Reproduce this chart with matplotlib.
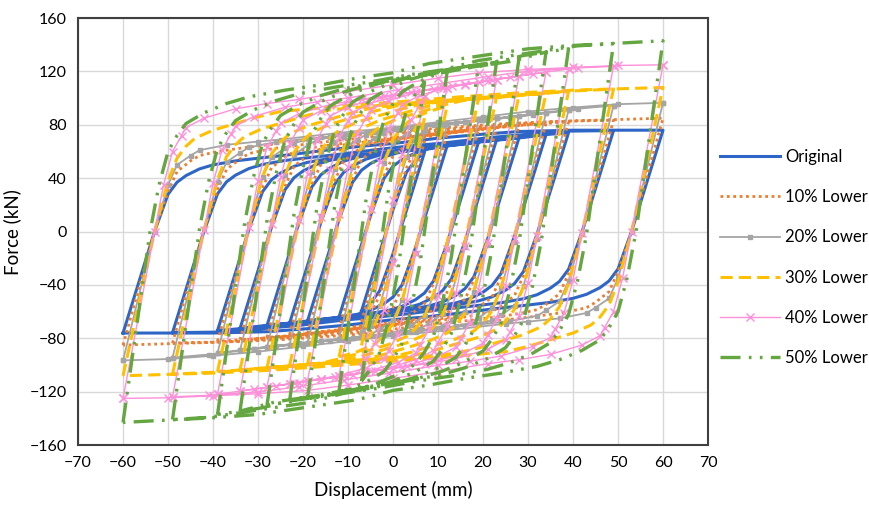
import numpy as np
import matplotlib.pyplot as plt

plt.rcParams['font.family'] = ['Lato', 'DejaVu Sans']

# cycle amplitudes (mm)
amplitudes = [7, 12, 19, 23, 28, 34, 39, 49, 60]

# upper branch of the largest (60 mm) loop: (displacement, force)
orig_x = [-60, -53, -50, -48, -46, -43, -40, -35, -30, -22, -15, -7, 0, 10, 20, 28, 40, 60]
orig_f = [-76, 0, 28, 37, 42, 47, 50, 53, 55, 58, 61, 64, 66, 70, 73, 75, 76, 76]
low10_x = [-60, -53, -50, -48, -45, -43, -39, -35, -28, -20, -10, 0, 12, 25, 40, 60]
low10_f = [-85, 0, 30, 45, 53, 57, 60, 62, 65, 68, 72, 75, 78, 81, 83, 85]
low20_x = [-60, -53, -50, -48, -45, -43, -37, -30, -25, -12, 0, 10, 20, 30, 40, 50, 60]
low20_f = [-96.5, 0, 35, 50, 57, 61, 65, 67.5, 69, 74, 78, 82, 86, 90, 93, 95.5, 96.5]
low30_x = [-60, -53, -50, -48, -46, -44, -40, -35, -30, -25, -12, 0, 15, 28, 40, 60]
low30_f = [-108, 0, 38, 55, 64, 70, 76, 81, 86, 90, 94, 97, 101, 104, 106, 108]
low40_x = [-60, -53, -51, -49, -47, -46, -42, -35, -28, -21, -10, 0, 10, 19, 30, 40, 50, 60]
low40_f = [-125, 0, 35, 60, 72, 78, 85, 92, 96, 99, 105, 110, 115, 119, 121.5, 123, 124.5, 125]
low50_x = [-60, -54, -52, -50, -48, -46, -42, -37, -32, -24, -16, -8, 0, 8, 18, 30, 40, 49, 60]
low50_f = [-143, 0, 35, 60, 72, 81, 89, 96, 101, 106, 110, 115, 119, 126, 131, 137, 139.5, 141, 143]

# peak force of each cycle (kN), one per amplitude
orig_peak = [59.5, 64, 67, 68.7, 70.3, 72.6, 74.1, 75.7, 76]
low10_peak = [67.4, 73.2, 76.1, 77.2, 79.3, 81, 82.1, 83.5, 85]
low20_peak = [75.5, 80.3, 83.3, 84.8, 86.6, 88.9, 90.9, 94.4, 96.5]
low30_peak = [85.3, 93.9, 99.4, 100.6, 102, 103.6, 104.8, 106.8, 108]
low40_peak = [101.5, 107.9, 111.8, 113.9, 116.5, 119.4, 121.8, 123.8, 125]
low50_peak = [112, 119.2, 124.8, 127, 129.9, 134.5, 137, 140.8, 143]

labels = ['Original', '10% Lower', '20% Lower', '30% Lower', '40% Lower', '50% Lower']


def build_loops(bx, bf, peaks):
    """Chain one closed loop per amplitude, reusing the big-loop branch shape."""
    dx = np.array(bx) - bx[0]
    df = np.array(bf) - bf[0]
    xs, ys = [], []
    for A, F in zip(amplitudes, peaks):
        keep = dx < 2 * A - 0.5
        # loading branch
        xs += list(-A + dx[keep]) + [A]
        ys += list(-F + df[keep]) + [F]
        # unloading branch
        xs += list(A - dx[keep]) + [-A]
        ys += list(F - df[keep]) + [-F]
        xs.append(np.nan)
        ys.append(np.nan)
    return xs, ys


series = [
    (orig_x, orig_f, orig_peak, dict(color='#2E66C8', lw=2.2, ls='-')),
    (low10_x, low10_f, low10_peak, dict(color='#ED7D31', lw=2.0, ls=(0, (1, 1.3)))),
    (low20_x, low20_f, low20_peak, dict(color='#A5A5A5', lw=1.3, ls='-', marker='s', ms=3.5)),
    (low30_x, low30_f, low30_peak, dict(color='#FFC000', lw=2.2, ls=(0, (4, 2)))),
    (low40_x, low40_f, low40_peak, dict(color='#FF90DA', lw=1.0, ls='-', marker='x', ms=6, mew=1.0)),
    (low50_x, low50_f, low50_peak, dict(color='#64A640', lw=2.4, ls=(0, (6, 2.5, 0.8, 2.5, 0.8, 2.5)))),
]

fig = plt.figure(figsize=(8.7, 5.17), dpi=100)
ax = fig.add_axes([0.0897, 0.139, 0.7241, 0.826])

for (bx, bf, pk, style), lab in zip(series, labels):
    xs, ys = build_loops(bx, bf, pk)
    ax.plot(xs, ys, label=lab, **style)

ax.set_xlim(-70, 70)
ax.set_ylim(-160, 160)
ax.set_xticks(np.arange(-70, 71, 10))
ax.set_yticks(np.arange(-160, 161, 40))
ax.grid(True, color='#D9D9D9', lw=1.0)
ax.set_axisbelow(True)
ax.tick_params(length=0, labelsize=11.5, pad=8)
for s in ax.spines.values():
    s.set_color('#404040')
    s.set_linewidth(1.5)

ax.set_xlabel('Displacement (mm)', fontsize=13.5, labelpad=8)
ax.set_ylabel('Force (kN)', fontsize=13.5, labelpad=6)

fig.legend(loc='center left', bbox_to_anchor=(0.828, 0.502), frameon=False,
           fontsize=12, handlelength=3.6, handletextpad=0.3, labelspacing=1.45,
           borderpad=0, borderaxespad=0)

fig.savefig('out.png', dpi=100)
